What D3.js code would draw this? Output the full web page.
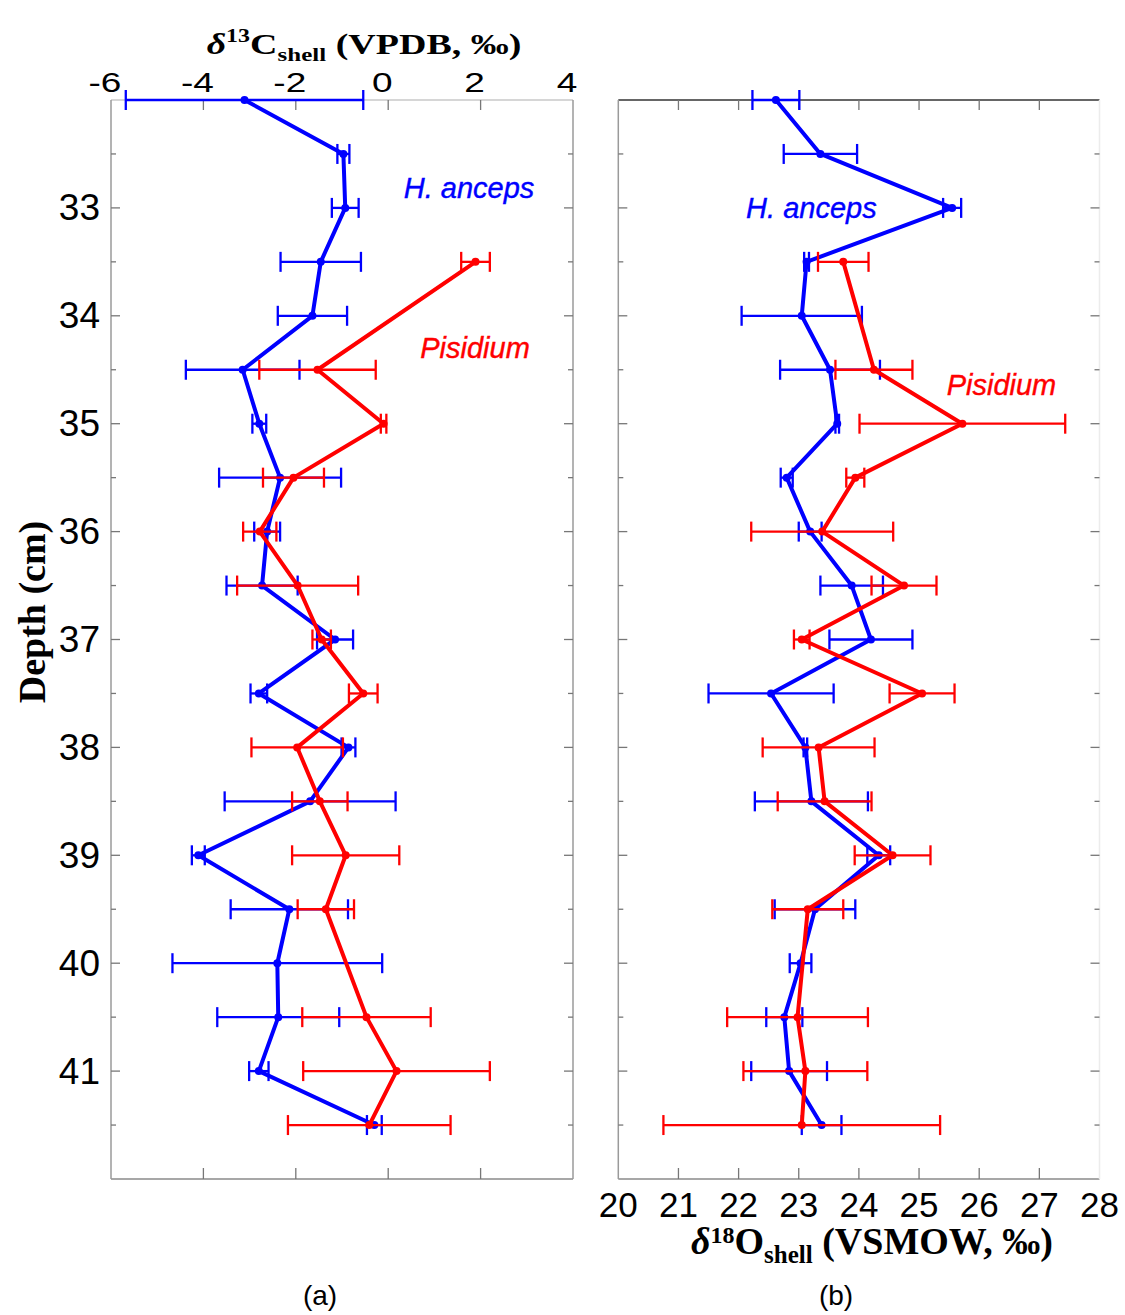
<!DOCTYPE html>
<html>
<head>
<meta charset="utf-8">
<script src="https://cdn.jsdelivr.net/npm/d3@7"></script>
<style>
  html, body { margin: 0; padding: 0; background: #fff; }
  svg { display: block; }
</style>
</head>
<body>
<svg id="chart" width="1125" height="1315"></svg>
<script>
// Sampling depths (cm)
const depthsAnceps = [32, 32.5, 33, 33.5, 34, 34.5, 35, 35.5, 36, 36.5, 37, 37.5, 38, 38.5, 39, 39.5, 40, 40.5, 41, 41.5];
const depthsPisidium = [33.5, 34.5, 35, 35.5, 36, 36.5, 37, 37.5, 38, 38.5, 39, 39.5, 40.5, 41, 41.5];

// δ13C shell (VPDB, ‰) with 1σ spread
const anceps13C    = [-3.11, -0.97, -0.93, -1.46, -1.64, -3.15, -2.79, -2.34, -2.62, -2.73, -1.15, -2.8, -0.86, -1.69, -4.11, -2.14, -2.4, -2.38, -2.8, -0.3];
const anceps13CErr = [2.57, 0.13, 0.29, 0.87, 0.75, 1.23, 0.15, 1.32, 0.28, 0.77, 0.39, 0.18, 0.15, 1.85, 0.14, 1.27, 2.27, 1.32, 0.21, 0.16];
const pisidium13C    = [1.89, -1.53, -0.1, -2.05, -2.78, -1.96, -1.44, -0.54, -1.97, -1.48, -0.92, -1.35, -0.47, 0.18, -0.41];
const pisidium13CErr = [0.31, 1.26, 0.06, 0.66, 0.36, 1.31, 0.2, 0.31, 0.99, 0.6, 1.16, 0.61, 1.39, 2.02, 1.76];

// δ18O shell (VSMOW, ‰) with 1σ spread
const anceps18O    = [22.62, 23.36, 25.55, 23.13, 23.05, 23.52, 23.64, 22.8, 23.19, 23.88, 24.2, 22.54, 23.11, 23.21, 24.33, 23.27, 23.03, 22.76, 22.84, 23.38];
const anceps18OErr = [0.39, 0.61, 0.15, 0.04, 1.0, 0.83, 0.03, 0.1, 0.19, 0.52, 0.69, 1.04, 0.03, 0.94, 0.19, 0.67, 0.18, 0.3, 0.63, 0.33];
const pisidium18O    = [23.74, 24.25, 25.72, 23.94, 23.39, 24.75, 23.05, 25.05, 23.33, 23.43, 24.56, 23.15, 22.98, 23.11, 23.05];
const pisidium18OErr = [0.42, 0.64, 1.71, 0.15, 1.18, 0.54, 0.13, 0.54, 0.93, 0.78, 0.63, 0.59, 1.17, 1.03, 2.3];

// Tick labels
const carbonTicks = [-6, -4, -2, 0, 2, 4];
const oxygenTicks = [20, 21, 22, 23, 24, 25, 26, 27, 28];
const depthTicks  = [33, 34, 35, 36, 37, 38, 39, 40, 41];
const depthMinor  = d3.range(32.5, 42, 0.5);

const BLUE = "#0000ff", RED = "#ff0000";
const svg = d3.select("#chart");

const y  = d3.scaleLinear().domain([32, 42]).range([100, 1179]);
const xC = d3.scaleLinear().domain([-6, 4]).range([111, 573]);
const xO = d3.scaleLinear().domain([20, 28]).range([618.3, 1099.5]);

function frame(x, edges) {
  const [x0, x1] = x.range(), [y0, y1] = y.range();
  const g = svg.append("g");
  const seg = [
    [x0, y0, x1, y0, edges.top],
    [x0, y1, x1, y1, edges.bottom],
    [x0, y0, x0, y1, edges.left],
    [x1, y0, x1, y1, edges.right]
  ];
  g.selectAll("line").data(seg).join("line")
    .attr("x1", d => d[0]).attr("y1", d => d[1])
    .attr("x2", d => d[2]).attr("y2", d => d[3])
    .attr("stroke", d => d[4]).attr("stroke-width", 1.5);
}

function ticks(x, xTickVals) {
  const [x0, x1] = x.range(), [y0, y1] = y.range();
  const g = svg.append("g").attr("stroke", "#777").attr("stroke-width", 1.3);
  const yMajor = d => Number.isInteger(d);
  // depth ticks on both vertical edges, pointing inward
  g.selectAll(".yl").data(depthMinor).join("line")
    .attr("x1", x0).attr("x2", d => x0 + (yMajor(d) ? 9 : 5))
    .attr("y1", d => y(d)).attr("y2", d => y(d));
  g.selectAll(".yr").data(depthMinor).join("line")
    .attr("x1", x1).attr("x2", d => x1 - (yMajor(d) ? 9 : 5))
    .attr("y1", d => y(d)).attr("y2", d => y(d));
  // value ticks on top and bottom edges, pointing inward
  g.selectAll(".xt").data(xTickVals).join("line")
    .attr("x1", d => x(d)).attr("x2", d => x(d))
    .attr("y1", y0).attr("y2", y0 + 10);
  g.selectAll(".xb").data(xTickVals).join("line")
    .attr("x1", d => x(d)).attr("x2", d => x(d))
    .attr("y1", y1).attr("y2", y1 - 11);
}

function series(x, depths, vals, errs, color) {
  const g = svg.append("g");
  const pts = depths.map((d, i) => ({ d, v: vals[i], e: errs[i] }));
  const cap = 10;
  const eb = g.append("g").attr("stroke", color).attr("stroke-width", 2.3);
  eb.selectAll(".bar").data(pts).join("line")
    .attr("x1", p => x(p.v - p.e)).attr("x2", p => x(p.v + p.e))
    .attr("y1", p => y(p.d)).attr("y2", p => y(p.d));
  eb.selectAll(".capL").data(pts).join("line")
    .attr("x1", p => x(p.v - p.e)).attr("x2", p => x(p.v - p.e))
    .attr("y1", p => y(p.d) - cap).attr("y2", p => y(p.d) + cap);
  eb.selectAll(".capR").data(pts).join("line")
    .attr("x1", p => x(p.v + p.e)).attr("x2", p => x(p.v + p.e))
    .attr("y1", p => y(p.d) - cap).attr("y2", p => y(p.d) + cap);
  const line = d3.line().x(p => x(p.v)).y(p => y(p.d));
  g.append("path").datum(pts).attr("d", line)
    .attr("fill", "none").attr("stroke", color)
    .attr("stroke-width", 4).attr("stroke-linejoin", "round");
  g.selectAll("circle").data(pts).join("circle")
    .attr("cx", p => x(p.v)).attr("cy", p => y(p.d)).attr("r", 4)
    .attr("fill", color);
}

function speciesLabel(x, v, d, text, color) {
  svg.append("text")
    .attr("x", x(v)).attr("y", y(d))
    .attr("text-anchor", "middle").attr("dominant-baseline", "central")
    .attr("font-family", "Liberation Sans, Arial, sans-serif")
    .attr("font-style", "italic").attr("font-size", 29)
    .attr("stroke", color).attr("stroke-width", 0.4)
    .attr("fill", color).text(text);
}

// ---- panel (a): carbon ----
frame(xC, { top: "#c8c8c8", bottom: "#8a8a8a", left: "#9a9a9a", right: "#9a9a9a" });
ticks(xC, [-4, -2, 0, 2]);
series(xC, depthsAnceps, anceps13C, anceps13CErr, BLUE);
series(xC, depthsPisidium, pisidium13C, pisidium13CErr, RED);
speciesLabel(xC, 1.75, 32.82, "H. anceps", BLUE);
speciesLabel(xC, 1.88, 34.3, "Pisidium", RED);

// ---- panel (b): oxygen ----
frame(xO, { top: "#333", bottom: "#8a8a8a", left: "#9a9a9a", right: "#ececec" });
ticks(xO, [21, 22, 23, 24, 25, 26, 27]);
series(xO, depthsAnceps, anceps18O, anceps18OErr, BLUE);
series(xO, depthsPisidium, pisidium18O, pisidium18OErr, RED);
speciesLabel(xO, 23.21, 33.0, "H. anceps", BLUE);
speciesLabel(xO, 26.37, 34.64, "Pisidium", RED);

// ---- tick labels ----
const sans = "Liberation Sans, Arial, sans-serif";
const serif = "Liberation Serif, Times New Roman, serif";

// top carbon scale (set in a compressed strip)
svg.append("g").selectAll("text").data(carbonTicks).join("text")
  .attr("transform", d => `translate(${xC(d) - 6},82) scale(1,0.76)`)
  .attr("text-anchor", "middle").attr("dominant-baseline", "central")
  .attr("font-family", sans).attr("font-size", 37).attr("fill", "#000")
  .text(d => d);

svg.append("g").selectAll("text").data(oxygenTicks).join("text")
  .attr("x", d => xO(d)).attr("y", 1204)
  .attr("text-anchor", "middle").attr("dominant-baseline", "central")
  .attr("font-family", sans).attr("font-size", 35).attr("fill", "#000")
  .text(d => d);

svg.append("g").selectAll("text").data(depthTicks).join("text")
  .attr("x", 100).attr("y", d => y(d))
  .attr("text-anchor", "end").attr("dominant-baseline", "central")
  .attr("font-family", sans).attr("font-size", 37).attr("fill", "#000")
  .text(d => d);

// ---- axis titles ----
function isoTitle(parent, num, elem, ref, rise) {
  const t = parent.append("text")
    .attr("text-anchor", "middle")
    .attr("font-family", serif).attr("font-weight", "bold")
    .attr("font-size", 38).attr("fill", "#000");
  t.append("tspan").attr("font-style", "italic").text("δ");
  t.append("tspan").attr("font-size", 24).attr("dy", -rise).text(num);
  t.append("tspan").attr("dy", rise).text(elem);
  t.append("tspan").attr("font-size", 25).attr("dy", 9).text("shell");
  t.append("tspan").attr("dy", -9).text(" (" + ref + ", ‰)");
  return t;
}
isoTitle(svg.append("g").attr("transform", "translate(364,54) scale(1,0.77)"), "13", "C", "VPDB", 15);
isoTitle(svg.append("g").attr("transform", "translate(872,1254)"), "18", "O", "VSMOW", 11);

svg.append("text")
  .attr("transform", "translate(32,612) rotate(-90)")
  .attr("text-anchor", "middle").attr("dominant-baseline", "central")
  .attr("font-family", serif).attr("font-weight", "bold")
  .attr("font-size", 38).attr("fill", "#000")
  .text("Depth (cm)");

// panel captions
svg.append("text").attr("x", 320).attr("y", 1305)
  .attr("text-anchor", "middle").attr("font-family", sans)
  .attr("font-size", 28).attr("fill", "#000").text("(a)");
svg.append("text").attr("x", 836).attr("y", 1305)
  .attr("text-anchor", "middle").attr("font-family", sans)
  .attr("font-size", 28).attr("fill", "#000").text("(b)");
</script>
</body>
</html>
